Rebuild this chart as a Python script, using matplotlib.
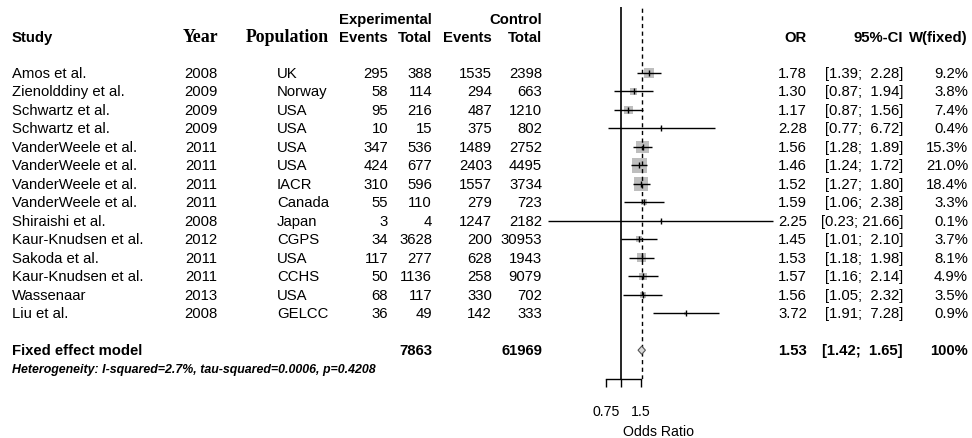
import numpy as np
import matplotlib
matplotlib.use("Agg")
import matplotlib.pyplot as plt
from matplotlib import transforms
from matplotlib.ticker import FixedLocator, FixedFormatter, NullLocator

plt.rcParams['font.family'] = ['Liberation Sans', 'DejaVu Sans']

# study level data
studies = ["Amos et al.", "Zienolddiny et al.", "Schwartz et al.", "Schwartz et al.",
           "VanderWeele et al.", "VanderWeele et al.", "VanderWeele et al.", "VanderWeele et al.",
           "Shiraishi et al.", "Kaur-Knudsen et al.", "Sakoda et al.", "Kaur-Knudsen et al.",
           "Wassenaar", "Liu et al."]
years = [2008, 2009, 2009, 2009, 2011, 2011, 2011, 2011, 2008, 2012, 2011, 2011, 2013, 2008]
populations = ["UK", "Norway", "USA", "USA", "USA", "USA", "IACR", "Canada", "Japan",
               "CGPS", "USA", "CCHS", "USA", "GELCC"]
exp_events = [295, 58, 95, 10, 347, 424, 310, 55, 3, 34, 117, 50, 68, 36]
exp_total = [388, 114, 216, 15, 536, 677, 596, 110, 4, 3628, 277, 1136, 117, 49]
ctl_events = [1535, 294, 487, 375, 1489, 2403, 1557, 279, 1247, 200, 628, 258, 330, 142]
ctl_total = [2398, 663, 1210, 802, 2752, 4495, 3734, 723, 2182, 30953, 1943, 9079, 702, 333]
odds_ratio = [1.78, 1.30, 1.17, 2.28, 1.56, 1.46, 1.52, 1.59, 2.25, 1.45, 1.53, 1.57, 1.56, 3.72]
ci_low = [1.39, 0.87, 0.87, 0.77, 1.28, 1.24, 1.27, 1.06, 0.23, 1.01, 1.18, 1.16, 1.05, 1.91]
ci_high = [2.28, 1.94, 1.56, 6.72, 1.89, 1.72, 1.80, 2.38, 21.66, 2.10, 1.98, 2.14, 2.32, 7.28]
weight = [9.2, 3.8, 7.4, 0.4, 15.3, 21.0, 18.4, 3.3, 0.1, 3.7, 8.1, 4.9, 3.5, 0.9]

# pooled result
fixed_or, fixed_low, fixed_high = 1.53, 1.42, 1.65
fixed_exp_total = 7863
fixed_ctl_total = 61969
heterogeneity = "Heterogeneity: I-squared=2.7%, tau-squared=0.0006, p=0.4208"

axis_ticks = [0.75, 1, 1.5]
axis_labels = ["0.75", "", "1.5"]

W, H = 972, 439
fig = plt.figure(figsize=(W / 100, H / 100), dpi=100)
fig.patch.set_facecolor("white")

# forest panel, log scale; rows counted downwards
ax = fig.add_axes([530 / W, 1 - 380 / H, 270 / W, 372 / H])
ax.set_xscale("log")
ax.set_xlim(np.exp((530 - 620.7) / 49.4), np.exp((800 - 620.7) / 49.4))
ax.set_ylim((380 - 74) / 18.48, (8 - 74) / 18.48)
for s in ["top", "left", "right"]:
    ax.spines[s].set_visible(False)
ax.spines["bottom"].set_bounds(axis_ticks[0], axis_ticks[-1])
ax.spines["bottom"].set_linewidth(1.0)
ax.set_yticks([])
ax.xaxis.set_major_locator(FixedLocator(axis_ticks))
ax.xaxis.set_major_formatter(FixedFormatter(axis_labels))
ax.xaxis.set_minor_locator(NullLocator())
ax.tick_params(axis="x", direction="out", length=6, width=1.0, pad=12, labelsize=10.2)
ax.set_xlabel("Odds Ratio", fontsize=10.2)
ax.xaxis.set_label_coords((658 - 530) / 270, -(431.7 - 380) / 372)
ax.xaxis.label.set_va("center")
ax.patch.set_alpha(0)

rows = np.arange(len(studies))
fixed_row = len(studies) + 1

sizes = (10.8 * np.sqrt(np.array(weight) / 21.0)) ** 2
ax.scatter(odds_ratio, rows, s=sizes, marker="s", color="#BEBEBE", linewidths=0, zorder=2, clip_on=False)
ax.hlines(rows, ci_low, ci_high, color="black", lw=1.0, zorder=3, clip_on=False)
ax.plot(odds_ratio, rows, ls="none", marker="|", ms=5, mew=1.0, color="black", zorder=4, clip_on=False)
ax.axvline(1, color="black", lw=1.2, zorder=1)
ax.axvline(fixed_or, color="black", lw=1.0, ls=(0, (3, 2.5)), zorder=5)
ax.fill([fixed_low, fixed_or, fixed_high, fixed_or],
        [fixed_row, fixed_row - 0.22, fixed_row, fixed_row + 0.22],
        facecolor="#D9D9D9", edgecolor="#555555", lw=0.8, zorder=6)

tr = transforms.blended_transform_factory(fig.transFigure, ax.transData)
FS = 10.7


def put(px, row, s, ha, **kw):
    kw.setdefault("fontsize", FS)
    ax.text(px / W, row, s, transform=tr, ha=ha, va="center", clip_on=False, **kw)


# headers
hdr1, hdr2 = -2.92, -1.95
put(432, hdr1, "Experimental", "right", weight="bold")
put(542, hdr1, "Control", "right", weight="bold")
put(12, hdr2, "Study", "left", weight="bold")
put(201, hdr2, "Year", "center", weight="bold", family="Liberation Serif", fontsize=12.8)
put(287, hdr2, "Population", "center", weight="bold", family="Liberation Serif", fontsize=12.8)
put(388, hdr2, "Events", "right", weight="bold")
put(432, hdr2, "Total", "right", weight="bold")
put(492, hdr2, "Events", "right", weight="bold")
put(542, hdr2, "Total", "right", weight="bold")
put(807, hdr2, "OR", "right", weight="bold")
put(903, hdr2, "95%-CI", "right", weight="bold")
put(968, hdr2, "W(fixed)", "right", weight="bold")

for i in rows:
    put(12, i, studies[i], "left")
    put(201, i, str(years[i]), "center")
    put(277, i, populations[i], "left")
    put(388, i, str(exp_events[i]), "right")
    put(432, i, str(exp_total[i]), "right")
    put(492, i, str(ctl_events[i]), "right")
    put(542, i, str(ctl_total[i]), "right")
    put(807, i, f"{odds_ratio[i]:.2f}", "right")
    put(903, i, f"[{ci_low[i]:.2f}; {ci_high[i]:5.2f}]".replace("  ", "  "), "right")
    put(968, i, f"{weight[i]:.1f}%", "right")

put(12, fixed_row, "Fixed effect model", "left", weight="bold")
put(432, fixed_row, str(fixed_exp_total), "right", weight="bold")
put(542, fixed_row, str(fixed_ctl_total), "right", weight="bold")
put(807, fixed_row, f"{fixed_or:.2f}", "right", weight="bold")
put(903, fixed_row, f"[{fixed_low:.2f}; {fixed_high:5.2f}]", "right", weight="bold")
put(968, fixed_row, "100%", "right", weight="bold")
put(12, fixed_row + 1, heterogeneity, "left", weight="bold", style="italic", fontsize=8.9)

fig.savefig("out.png", dpi=100, facecolor="white")
